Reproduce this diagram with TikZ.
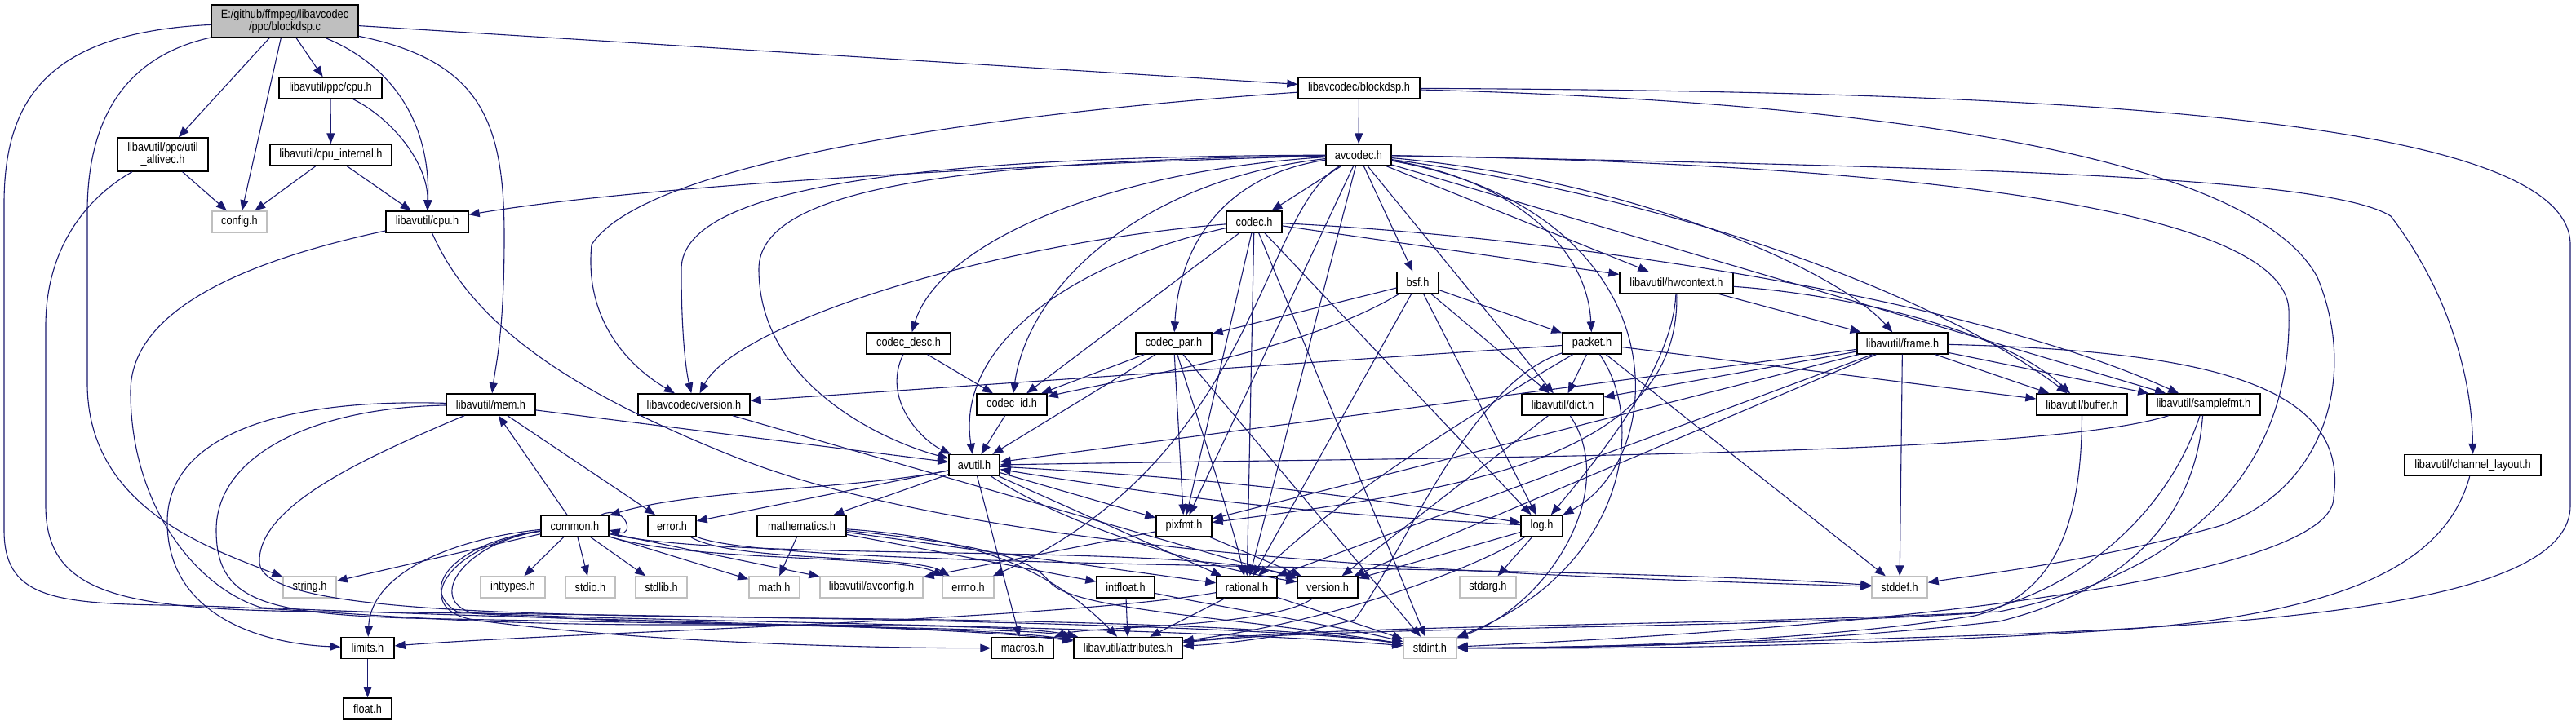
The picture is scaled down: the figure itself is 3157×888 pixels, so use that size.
\documentclass[tikz,border=0pt]{standalone}
\usepackage{fontspec}
\setmainfont{Liberation Sans}[FakeStretch=0.85]
\usetikzlibrary{arrows.meta}
\definecolor{edgec}{RGB}{25,25,112}
\definecolor{rootg}{RGB}{191,191,191}
\definecolor{sysg}{RGB}{191,191,191}
\begin{document}
\begin{tikzpicture}[x=1bp,y=-1bp,
 box/.style={draw=black, line width=1.4bp, fill=white, inner sep=0pt, minimum height=26bp, font=\fontsize{15bp}{15bp}\selectfont, align=center},
 sys/.style={box, draw=sysg},
 e/.style={draw=edgec, line width=1.1bp, -{Triangle[length=13bp,width=10bp]}}]
\useasboundingbox[fill=white] (0,0) rectangle (3157,888);

% ---------- nodes ----------
\node[box, fill=rootg, minimum width=180bp, minimum height=40bp] (root) at (349,26) {E:/github/ffmpeg/libavcodec\\/ppc/blockdsp.c};
\node[box, minimum width=126bp] (ppccpu) at (405,108) {libavutil/ppc/cpu.h};
\node[box, minimum width=149bp] (blockdsph) at (1665.5,108) {libavcodec/blockdsp.h};
\node[box, minimum width=111bp, minimum height=41bp] (altivec) at (199.5,189.5) {libavutil/ppc/util\\\_altivec.h};
\node[box, minimum width=149bp] (cpuint) at (405.5,190) {libavutil/cpu\_internal.h};
\node[box, minimum width=80bp] (avcodec) at (1665,190) {avcodec.h};
\node[sys, minimum width=67bp] (config) at (293.5,272) {config.h};
\node[box, minimum width=101bp] (cpuh) at (523.5,272) {libavutil/cpu.h};
\node[box, minimum width=68bp] (codech) at (1537,272) {codec.h};
\node[box, minimum width=51bp] (bsf) at (1737.5,346.5) {bsf.h};
\node[box, minimum width=139bp] (hwctx) at (2054.5,346.5) {libavutil/hwcontext.h};
\node[box, minimum width=103bp] (codecdesc) at (1113.5,421) {codec\_desc.h};
\node[box, minimum width=93bp] (codecpar) at (1438.5,421) {codec\_par.h};
\node[box, minimum width=72bp] (packet) at (1951,421) {packet.h};
\node[box, minimum width=111bp] (frame) at (2331.5,421) {libavutil/frame.h};
\node[box, minimum width=109bp] (mem) at (601.5,496) {libavutil/mem.h};
\node[box, minimum width=137bp] (lavcver) at (850.5,496) {libavcodec/version.h};
\node[box, minimum width=86bp] (codecid) at (1240,496) {codec\_id.h};
\node[box, minimum width=100bp] (dict) at (1915,496) {libavutil/dict.h};
\node[box, minimum width=111bp] (buffer) at (2551.5,496) {libavutil/buffer.h};
\node[box, minimum width=139bp] (samplefmt) at (2700.5,496) {libavutil/samplefmt.h};
\node[box, minimum width=62bp] (avutil) at (1194,570.5) {avutil.h};
\node[box, minimum width=167bp] (chlayout) at (3030.5,570.5) {libavutil/channel\_layout.h};
\node[box, minimum width=83bp] (common) at (704.5,645) {common.h};
\node[box, minimum width=59bp] (error) at (823.5,645) {error.h};
\node[box, minimum width=109bp] (mathematics) at (982.5,645) {mathematics.h};
\node[box, minimum width=68bp] (pixfmt) at (1451,645) {pixfmt.h};
\node[box, minimum width=51bp] (log) at (1889.5,645) {log.h};
\node[sys, minimum width=65bp] (string) at (379.5,720) {string.h};
\node[sys, minimum width=79bp] (inttypes) at (628.5,720) {inttypes.h};
\node[sys, minimum width=61bp] (stdio) at (723.5,720) {stdio.h};
\node[sys, minimum width=63bp] (stdlib) at (810.5,720) {stdlib.h};
\node[sys, minimum width=62bp] (math) at (949,720) {math.h};
\node[sys, minimum width=126bp] (avconfig) at (1068,720) {libavutil/avconfig.h};
\node[sys, minimum width=63bp] (errno) at (1186.5,720) {errno.h};
\node[box, minimum width=71bp] (intfloat) at (1379.5,720) {intfloat.h};
\node[box, minimum width=74bp] (rational) at (1528,720) {rational.h};
\node[box, minimum width=74bp] (version) at (1627,720) {version.h};
\node[sys, minimum width=69bp] (stdarg) at (1823.5,720) {stdarg.h};
\node[sys, minimum width=68bp] (stddef) at (2328,720) {stddef.h};
\node[box, minimum width=65bp] (limits) at (450.5,794.5) {limits.h};
\node[box, minimum width=76bp] (macros) at (1253,794.5) {macros.h};
\node[box, minimum width=133bp] (attributes) at (1382.5,794.5) {libavutil/attributes.h};
\node[sys, minimum width=65bp] (stdint) at (1752.5,794.5) {stdint.h};
\node[box, minimum width=59bp] (float) at (450.5,869) {float.h};

% ---------- edges ----------
% root
\draw[e] (root) -- (blockdsph);
\draw[e] (root) -- (ppccpu);
\draw[e] (root) -- (config);
\draw[e] (root) -- (altivec);
\draw[e] (root) .. controls (480,80) and (528,150) .. (cpuh);
\draw[e] (root) .. controls (590,75) and (618,150) .. (618,290) .. controls (618,410) and (607,450) .. (mem);
\draw[e] (root) .. controls (150,70) and (107,150) .. (107,260) -- (107,470) .. controls (107,620) and (250,670) .. (string);
\draw[e] (root) .. controls (60,40) and (5,120) .. (5,250) -- (5,650) .. controls (5,730) and (60,740) .. (200,742) .. controls (400,745) and (500,765) .. (800,766) .. controls (1000,766) and (1250,765) .. (attributes);
% ppc/cpu.h, cpu_internal.h
\draw[e] (ppccpu) -- (cpuint);
\draw[e] (ppccpu) .. controls (480,145) and (525,200) .. (cpuh);
\draw[e] (cpuint) -- (config);
\draw[e] (cpuint) -- (cpuh);
% util_altivec.h
\draw[e] (altivec) -- (config);
\draw[e] (altivec) .. controls (110,240) and (56,300) .. (56,400) -- (56,620) .. controls (56,730) and (150,748) .. (400,750) .. controls (900,755) and (1550,765) .. (stdint);
% cpu.h
\draw[e] (cpuh) .. controls (300,320) and (160,380) .. (160,480) .. controls (160,620) and (240,720) .. (320,745) .. controls (700,762) and (1150,765) .. (attributes);
\draw[e] (cpuh) .. controls (580,400) and (700,480) .. (900,560) .. controls (1200,680) and (1800,705) .. (stddef);
% blockdsp.h
\draw[e] (blockdsph) -- (avcodec);
\draw[e] (blockdsph) .. controls (1200,140) and (790,200) .. (725,300) .. controls (715,400) and (780,455) .. (lavcver);
\draw[e] (blockdsph) .. controls (2300,125) and (2760,190) .. (2840,340) .. controls (2890,460) and (2850,600) .. (2720,645) .. controls (2560,690) and (2420,705) .. (stddef);
\draw[e] (blockdsph) .. controls (2500,112) and (3150,140) .. (3150,300) -- (3150,620) .. controls (3150,730) and (2850,765) .. (2400,780) .. controls (2100,790) and (1900,794) .. (stdint);
% avcodec.h
\draw[e] (avcodec) -- (codech);
\draw[e] (avcodec) -- (bsf);
\draw[e] (avcodec) .. controls (1300,200) and (800,225) .. (cpuh);
\draw[e] (avcodec) .. controls (1150,192) and (835,225) .. (835,330) .. controls (835,420) and (842,460) .. (lavcver);
\draw[e] (avcodec) .. controls (1150,198) and (930,235) .. (930,330) .. controls (930,470) and (1080,540) .. (avutil);
\draw[e] (avcodec) .. controls (1350,210) and (1150,300) .. (codecdesc);
\draw[e] (avcodec) .. controls (1400,220) and (1260,350) .. (codecid);
\draw[e] (avcodec) .. controls (1500,215) and (1445,300) .. (codecpar);
\draw[e] (avcodec) .. controls (1545,260) and (1540,560) .. (errno);
\draw[e] (avcodec) -- (pixfmt);
\draw[e] (avcodec) -- (rational);
\draw[e] (avcodec) -- (samplefmt);
\draw[e] (avcodec) .. controls (2100,250) and (2400,380) .. (buffer);
\draw[e] (avcodec) .. controls (2000,220) and (2250,330) .. (frame);
\draw[e] (avcodec) -- (hwctx);
\draw[e] (avcodec) -- (dict);
\draw[e] (avcodec) .. controls (1850,220) and (1945,300) .. (packet);
\draw[e] (avcodec) .. controls (2060,260) and (2050,560) .. (log);
\draw[e] (avcodec) .. controls (2400,205) and (2850,215) .. (2930,265) .. controls (3010,370) and (3030,480) .. (chlayout);
\draw[e] (avcodec) .. controls (2300,200) and (2800,250) .. (2805,380) .. controls (2810,560) and (2700,700) .. (2450,750) .. controls (2100,768) and (1650,765) .. (attributes);
% codec.h
\draw[e] (codech) -- (hwctx);
\draw[e] (codech) .. controls (1900,290) and (2400,360) .. (samplefmt);
\draw[e] (codech) -- (codecid);
\draw[e] (codech) .. controls (1320,320) and (1170,420) .. (avutil);
\draw[e] (codech) .. controls (1200,300) and (900,400) .. (lavcver);
\draw[e] (codech) -- (log);
\draw[e] (codech) -- (pixfmt);
\draw[e] (codech) -- (rational);
\draw[e] (codech) -- (stdint);
% bsf.h
\draw[e] (bsf) .. controls (1600,430) and (1400,460) .. (codecid);
\draw[e] (bsf) -- (codecpar);
\draw[e] (bsf) -- (packet);
\draw[e] (bsf) -- (dict);
\draw[e] (bsf) -- (log);
\draw[e] (bsf) -- (rational);
% hwcontext.h
\draw[e] (hwctx) -- (frame);
\draw[e] (hwctx) .. controls (2250,360) and (2450,400) .. (buffer);
\draw[e] (hwctx) .. controls (2050,450) and (1960,560) .. (log);
\draw[e] (hwctx) .. controls (2060,560) and (1800,600) .. (pixfmt);
% codec_desc.h, codec_par.h
\draw[e] (codecdesc) -- (codecid);
\draw[e] (codecdesc) .. controls (1080,490) and (1130,540) .. (avutil);
\draw[e] (codecpar) -- (codecid);
\draw[e] (codecpar) -- (avutil);
\draw[e] (codecpar) -- (pixfmt);
\draw[e] (codecpar) .. controls (1470,520) and (1510,640) .. (rational);
\draw[e] (codecpar) -- (stdint);
% packet.h
\draw[e] (packet) -- (dict);
\draw[e] (packet) -- (lavcver);
\draw[e] (packet) -- (buffer);
\draw[e] (packet) -- (stddef);
\draw[e] (packet) .. controls (2020,520) and (1990,700) .. (stdint);
\draw[e] (packet) .. controls (1800,470) and (1720,680) .. (1660,760) .. controls (1580,780) and (1500,790) .. (attributes);
\draw[e] (packet) .. controls (1850,480) and (1650,600) .. (rational);
% frame.h
\draw[e] (frame) -- (dict);
\draw[e] (frame) -- (avutil);
\draw[e] (frame) -- (pixfmt);
\draw[e] (frame) -- (buffer);
\draw[e] (frame) -- (samplefmt);
\draw[e] (frame) -- (rational);
\draw[e] (frame) -- (version);
\draw[e] (frame) -- (stddef);
\draw[e] (frame) .. controls (2700,430) and (2880,470) .. (2860,610) .. controls (2860,700) and (2400,765) .. (stdint);
% mem.h
\draw[e] (mem) -- (error);
\draw[e] (mem) -- (avutil);
\draw[e] (mem) .. controls (330,488) and (205,540) .. (205,640) .. controls (205,760) and (330,790) .. (limits);
\draw[e] (mem) .. controls (380,500) and (265,560) .. (265,650) .. controls (265,735) and (320,752) .. (500,758) .. controls (900,766) and (1200,768) .. (attributes);
\draw[e] (mem) .. controls (450,560) and (315,620) .. (318,690) .. controls (322,748) and (600,754) .. (1000,758) .. controls (1400,762) and (1600,772) .. (stdint);
% common.h
\draw[e] (common) -- (mem);
\draw[e] (common) -- (string);
\draw[e] (common) -- (inttypes);
\draw[e] (common) -- (stdio);
\draw[e] (common) -- (stdlib);
\draw[e] (common) -- (math);
\draw[e] (common) -- (avconfig);
\draw[e] (common) .. controls (850,690) and (1100,680) .. (errno);
\draw[e] (common) .. controls (560,660) and (455,700) .. (limits);
\draw[e] (common) .. controls (550,668) and (500,745) .. (580,760) .. controls (800,790) and (1100,795) .. (macros);
\draw[e] (common) .. controls (570,665) and (520,735) .. (580,752) .. controls (800,768) and (1250,768) .. (attributes);
\draw[e] (common) .. controls (560,665) and (510,720) .. (560,750) .. controls (700,762) and (1400,765) .. (stdint);
\draw[e] (common) .. controls (900,690) and (1450,665) .. (version);
\draw[e] ([xshift=-10bp]common.north east) .. controls +(30,-14) and +(32,8) .. ([yshift=-5bp]common.east);
% error.h, mathematics.h, pixfmt.h
\draw[e] (error) .. controls (900,690) and (1120,680) .. (errno);
\draw[e] (error) .. controls (950,700) and (1900,690) .. (stddef);
\draw[e] (mathematics) -- (math);
\draw[e] (mathematics) -- (rational);
\draw[e] (mathematics) -- (intfloat);
\draw[e] (mathematics) .. controls (1200,660) and (1290,700) .. (attributes);
\draw[e] (mathematics) .. controls (1180,665) and (1260,680) .. (1285,712) .. controls (1310,748) and (1500,755) .. (stdint);
\draw[e] (pixfmt) -- (avconfig);
\draw[e] (pixfmt) -- (version);
% log.h
\draw[e] (log) -- (stdarg);
\draw[e] (log) -- (version);
\draw[e] (log) to[bend left=3] (avutil);
\draw[e] (log) .. controls (1820,690) and (1650,760) .. (attributes);
% avutil.h
\draw[e] (avutil) .. controls (1050,600) and (850,600) .. (common);
\draw[e] (avutil) -- (error);
\draw[e] (avutil) -- (mathematics);
\draw[e] (avutil) -- (rational);
\draw[e] (avutil) .. controls (1300,640) and (1450,690) .. (version);
\draw[e] (avutil) -- (macros);
\draw[e] (avutil) to[bend left=3] (log);
\draw[e] (avutil) -- (pixfmt);
% rational.h, version.h, intfloat.h
\draw[e] (rational) .. controls (1300,760) and (700,775) .. (limits);
\draw[e] (rational) -- (attributes);
\draw[e] (rational) -- (stdint);
\draw[e] (version) .. controls (1560,770) and (1330,768) .. (macros);
\draw[e] (intfloat) -- (attributes);
\draw[e] (intfloat) .. controls (1500,745) and (1650,770) .. (stdint);
% dict.h, buffer.h, samplefmt.h, channel_layout.h
\draw[e] (dict) -- (version);
\draw[e] (dict) .. controls (1985,600) and (1900,740) .. (stdint);
\draw[e] (buffer) .. controls (2551,640) and (2520,730) .. (2420,755) .. controls (2200,790) and (1900,795) .. (stdint);
\draw[e] (samplefmt) .. controls (2500,560) and (1800,560) .. (avutil);
\draw[e] (samplefmt) .. controls (2660,620) and (2560,720) .. (2420,752) .. controls (2100,772) and (1650,768) .. (attributes);
\draw[e] (samplefmt) .. controls (2690,640) and (2600,725) .. (2450,762) .. controls (2200,790) and (1950,795) .. (stdint);
\draw[e] (chlayout) .. controls (3000,680) and (2900,750) .. (2600,772) .. controls (2300,792) and (2000,796) .. (stdint);
% others
\draw[e] (lavcver) -- (version);
\draw[e] (codecid) -- (avutil);
\draw[e] (limits) -- (float);
\end{tikzpicture}
\end{document}
